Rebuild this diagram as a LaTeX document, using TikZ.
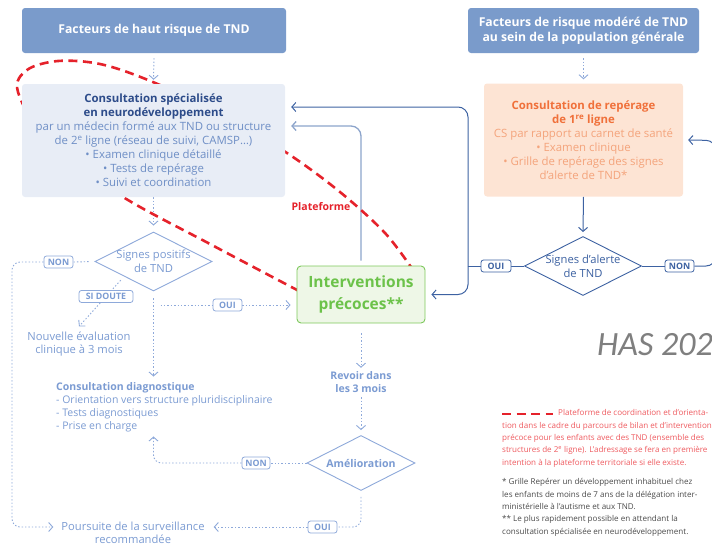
\documentclass[tikz,border=0pt]{standalone}
\usepackage{fontspec}
\setmainfont{Open Sans}
\newfontfamily\hasfont{Carlito}
\usetikzlibrary{arrows.meta,shapes.geometric,calc}
\definecolor{hdrblue}{HTML}{7A9BCB}
\definecolor{boxgray}{HTML}{E8EDF6}
\definecolor{navy}{HTML}{2D4C8A}
\definecolor{midblue}{HTML}{6F8FC6}
\definecolor{lightblue}{HTML}{8EA9DA}
\definecolor{textlb}{HTML}{7B9BD2}
\definecolor{darkblue}{HTML}{3D62A2}
\definecolor{greyblue}{HTML}{8CA4CB}
\definecolor{peach}{HTML}{FDE4D4}
\definecolor{orangeT}{HTML}{F0703A}
\definecolor{orangeL}{HTML}{F4A47C}
\definecolor{greenF}{HTML}{EEF7E7}
\definecolor{greenS}{HTML}{7DC85C}
\definecolor{greenT}{HTML}{6CC24A}
\definecolor{redP}{HTML}{E5222B}
\definecolor{redL}{HTML}{EE5A5F}
\definecolor{footG}{HTML}{4A4A4A}
\definecolor{hasG}{HTML}{7F7F7F}
\newcommand{\cstitle}[1]{{\bfseries\color{navy}#1}}
\newcommand{\crtitle}[1]{{\bfseries\color{orangeT}#1}}
\pgfdeclarelayer{back}
\pgfdeclarelayer{mid}
\pgfsetlayers{back,mid,main}
\begin{document}
\begin{tikzpicture}[x=1pt,y=-1pt,
  hdr/.style={fill=hdrblue, rounded corners=3pt, text=white, font=\bfseries\fontsize{12.2}{15}\selectfont, align=center, minimum height=45pt, inner sep=0pt},
  lbl/.style={draw, solid, rounded corners=2.5pt, fill=white, font=\bfseries\fontsize{8.8}{9}\selectfont, inner xsep=2pt, inner ysep=0pt, line width=0.8pt, minimum height=12pt},
  lbld/.style={lbl, draw=darkblue, text=darkblue},
  lbll/.style={lbl, draw=lightblue, text=textlb},
  dotl/.style={draw=lightblue, line width=0.9pt, dash pattern=on 1.4pt off 2pt},
  tip/.style={-{Straight Barb[length=4pt,width=9pt]}},
  dk/.style={draw=darkblue, line width=1pt},
  gb/.style={draw=greyblue, line width=1.3pt},
  dia/.style={diamond, draw, fill=white, line width=0.9pt, inner sep=0pt},
  dtext/.style={align=center, font=\fontsize{11.2}{14}\selectfont, inner sep=0pt},
  ltext/.style={text=textlb, align=center, font=\fontsize{11.2}{13.5}\selectfont, inner sep=0pt},
]
\useasboundingbox (0,0) rectangle (712,546);

% ---------- nodes ----------
\node[hdr, minimum width=264pt] (h1) at (154,30.5) {Facteurs de haut risque de TND};
\node[hdr, minimum width=231pt] (h2) at (583.5,30.5) {Facteurs de risque modéré de TND\\au sein de la population générale};

\node[fill=boxgray, rounded corners=3pt, minimum width=263pt, minimum height=113pt, align=center, inner sep=0pt, text=midblue, font=\fontsize{11.4}{14}\selectfont] (cs) at (153.5,140.5)
 {\cstitle{Consultation spécialisée}\\\cstitle{en neurodéveloppement}\\par un médecin formé aux TND ou structure\\de 2\textsuperscript{e} ligne (réseau de suivi, CAMSP…)\\• Examen clinique détaillé\\• Tests de repérage\\• Suivi et coordination};

\node[fill=peach, rounded corners=3pt, minimum width=199pt, minimum height=113pt, align=center, inner sep=0pt, text=orangeL, font=\fontsize{11.4}{14}\selectfont] (cr) at (583.5,140)
 {\crtitle{Consultation de repérage}\\\crtitle{de 1\textsuperscript{re} ligne}\\CS par rapport au carnet de santé\\• Examen clinique\\• Grille de repérage des signes\\d’alerte de TND*};

\node[dia, draw=darkblue, minimum width=117pt, minimum height=59pt] (sa) at (583,266) {};
\node[dtext, text=darkblue] (sat) at (sa) {Signes d’alerte\\de TND};
\node[dia, draw=lightblue, minimum width=117pt, minimum height=59pt] (sp) at (153.5,261.5) {};
\node[dtext, text=textlb] (spt) at (sp) {Signes positifs\\de TND};
\node[dia, draw=lightblue, minimum width=108pt, minimum height=55pt] (am) at (361,463) {};
\node[dtext, text=textlb, font=\bfseries\fontsize{10.6}{13}\selectfont] (amt) at (am) {Amélioration};

\node[fill=greenF, draw=greenS, line width=0.9pt, rounded corners=4pt, minimum width=128pt, minimum height=57pt, inner sep=0pt, text=greenT, font=\bfseries\fontsize{15.5}{22}\selectfont, align=center] (ip) at (361,294.5) {Interventions\\précoces**};

\node[ltext] (ne) at (79,344) {Nouvelle évaluation\\clinique à 3 mois};
\node[ltext, font=\bfseries\fontsize{10.5}{13}\selectfont] (rv) at (361,382.5) {Revoir dans\\les 3 mois};
\node[ltext, align=left, anchor=west, font=\fontsize{10.5}{13}\selectfont] (cd) at (56,407.5) {\textbf{Consultation diagnostique}\\- Orientation vers structure pluridisciplinaire\\- Tests diagnostiques\\- Prise en charge};
\node[ltext, font=\fontsize{11.2}{13}\selectfont] (ps) at (133,532.5) {Poursuite de la surveillance\\recommandée};

\node[lbld, minimum width=30pt] (oui1) at (496,266) {OUI};
\node[lbld, minimum width=29pt] (non1) at (679.5,266) {NON};
\node[lbll, minimum width=29pt] (non2) at (58.5,262) {NON};
\node[lbll, minimum width=29pt] (oui2) at (227.5,305) {OUI};
\node[lbll, minimum width=28pt] (non3) at (256,463) {NON};
\node[lbll, minimum width=29pt] (oui3) at (322.5,527) {OUI};

\node[text=redP, font=\bfseries\fontsize{10.5}{12}\selectfont, inner sep=0pt] (plat) at (321,207) {Plateforme};

\node[anchor=base west, inner sep=0pt, text=hasG, font=\hasfont\itshape\fontsize{34}{38}\selectfont] (has) at (597,355) {HAS 202};

\node[anchor=north west, inner sep=0pt, align=left, text=redL, font=\fontsize{8.05}{12.3}\selectfont] (lg) at (502,409.5)
 {\hspace*{56pt}Plateforme de coordination et d’orienta-\\tion dans le cadre du parcours de bilan et d’intervention\\précoce pour les enfants avec des TND (ensemble des\\structures de 2\textsuperscript{e} ligne). L’adressage se fera en première\\intention à la plateforme territoriale si elle existe.};
\node[anchor=north west, inner sep=0pt, align=left, text=footG, font=\fontsize{8.05}{12.3}\selectfont] (fn) at (502,478.5)
 {* Grille Repérer un développement inhabituel chez\\les enfants de moins de 7 ans de la délégation inter-\\ministérielle à l’autisme et aux TND.\\** Le plus rapidement possible en attendant la\\consultation spécialisée en neurodéveloppement.};

\coordinate (jn) at (468,266);
\coordinate (y107) at (0,107);
\coordinate (y126) at (0,126);
\coordinate (lc) at (12,262);
\coordinate (rc1) at (716,266);
\coordinate (rc2) at (716,140.5);
\coordinate (lgA) at (502,414);
\coordinate (lgB) at (553,414);

% ---------- red platform loop ----------
\begin{pgfonlayer}{mid}
\draw[redP, line width=2.6pt, dash pattern=on 9pt off 5.5pt] plot[smooth, tension=0.55] coordinates {(299,291) (210,244) (123,197) (50,145) (18,92) (27,70) (58,61) (100,64) (148,80) (220,113) (287,153) (340,192) (385,233) (413,270)};
\end{pgfonlayer}
\draw[redP, line width=2.6pt, dash pattern=on 9pt off 5.5pt] (lgA) -- (lgB);

% ---------- connectors ----------
\begin{pgfonlayer}{back}
\draw[dotl,tip] ([yshift=-5pt]h1.south) -- ([yshift=4pt]cs.north);
\draw[dotl,tip] ([yshift=-5pt]h2.south) -- ([yshift=4pt]cr.north);
\draw[dotl,tip] (cs.south) -- ([yshift=6pt]sp.north);
\draw[dotl,tip] ([yshift=-7pt]sp.south) -- ([yshift=6pt]sp.south |- cd.north);
\draw[dotl,tip,shorten >=6pt] ([xshift=7pt]sp.south |- oui2) -- (ip.west |- oui2);
\draw[dotl,tip,shorten <=5pt] ($(sp.west)!0.5!(sp.south)$) -- ([yshift=5pt]ne.north) node[lbll, minimum width=54pt, pos=0.4] (sid) {SI DOUTE};
\draw[dotl,shorten <=6pt] (sp.west) -- (non2.east);
\draw[dotl,tip,rounded corners=8pt] (non2.west) -- (lc) |- ([xshift=-8pt]ps.west |- oui3);
\draw[dotl,tip] ([yshift=-10pt]ip.south) -- ([yshift=4pt]rv.north);
\draw[dotl,tip] ([yshift=-4pt]rv.south) -- ([yshift=5pt]am.north);
\draw[dotl] (am.west) -- (non3.east);
\draw[dotl,tip,rounded corners=8pt] (non3.west) -| ([yshift=-4pt]sp.south |- cd.south);
\draw[dotl,rounded corners=8pt] ([yshift=-6pt]am.south) |- (oui3.east);
\draw[dotl,tip] (oui3.west) -- ([xshift=9pt]ps.east |- oui3);

\draw[dk] (sa.west) -- (oui1.east);
\draw[dk] (oui1.west) -- (jn);
\draw[dk,tip,rounded corners=10pt] (jn) |- ([xshift=6pt]cs.east |- y107);
\draw[dk,tip,rounded corners=10pt] (jn) |- ([xshift=6pt]ip.east);
\draw[gb,tip,rounded corners=10pt] ([yshift=5pt]ip.north) |- ([xshift=6pt]cs.east |- y126);
\draw[dk,tip] (cr.south) -- ([yshift=4pt]sa.north);
\draw[dk] (sa.east) -- (non1.west);
\draw[dk,tip,rounded corners=10pt] (non1.east) -- (rc1) -- (rc2) -- ([xshift=5pt]cr.east);
\end{pgfonlayer}
\end{tikzpicture}
\end{document}
